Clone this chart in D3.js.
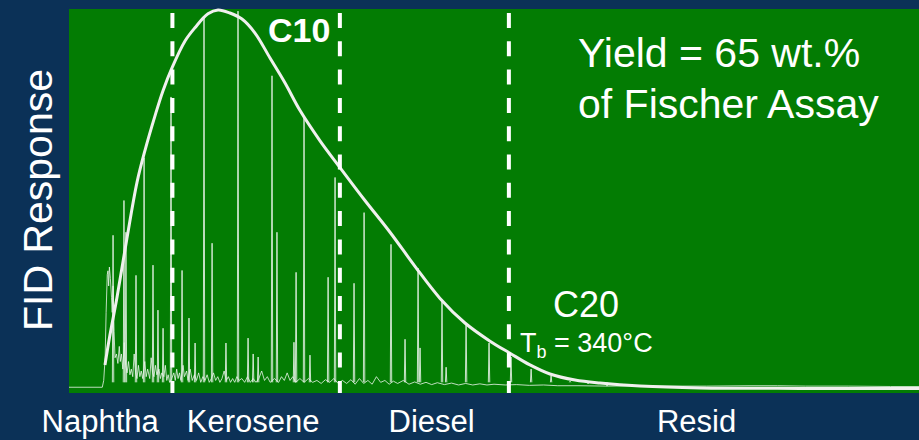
<html>
<script src='https://d3js.org/d3.v7.min.js'></script>
<style>
    body { margin: 0; background: #0b3157; }
    text { font-family: "Liberation Sans", Arial, sans-serif; fill: #ffffff; }
</style>

<body>
    <div id="graph-container"></div>
    <script>
        // retention time (min) of the boiling cuts and their labels
        var cutTimes = [7.3, 19.12, 31.05];
        var fractionNames = ["Naphtha", "Kerosene", "Diesel", "Resid"];
        var fractionLabelX = [2.2, 13.0, 25.6, 44.3];

        // baseline trace of the chromatogram: [time, response %]
        var traceTimes = [0, 2.35, 2.45, 2.55, 2.62, 2.7, 2.75, 2.8, 2.85, 2.92, 3.0, 3.05, 3.11, 3.18, 3.25, 3.35, 3.45, 3.55, 3.62, 3.7,
            3.8, 3.9, 4.0, 4.1, 4.2, 4.3, 4.4, 4.5, 4.6, 4.7, 4.8, 4.9, 5.0, 5.1, 5.2, 5.35, 5.45, 5.55, 5.7, 5.8,
            5.9, 6.0, 6.1, 6.2, 6.35, 6.45, 6.55, 6.7, 6.8, 6.9, 7.0, 7.1, 7.25, 7.4, 7.5, 7.6, 7.7, 7.8, 7.9, 8.05,
            8.15, 8.3, 8.4, 8.55, 8.7, 8.85, 9.0, 9.15, 9.3, 9.45, 9.6, 9.75, 9.9, 10.05, 10.2, 10.35, 10.5, 10.65, 10.8, 10.95,
            11.1, 11.25, 11.4, 11.55, 11.7, 11.85, 12.0, 12.2, 12.4, 12.6, 12.8, 13.0, 13.2, 13.4, 13.6, 13.8, 14.0, 14.2, 14.5, 14.8,
            15.0, 15.2, 15.4, 15.6, 15.8, 16.0, 16.3, 16.6, 16.9, 17.2, 17.5, 17.8, 18.1, 18.4, 18.7, 19.0, 19.3, 19.6, 19.9, 20.2,
            20.5, 20.8, 21.1, 21.4, 21.7, 22.0, 22.3, 22.6, 22.9, 23.2, 23.6, 24.0, 24.4, 24.8, 25.2, 25.6, 26.0, 26.5, 27.0, 27.5,
            28.0, 28.5, 29.0, 29.5, 30.0, 30.8, 31.6, 32.5, 33.5, 34.5, 36, 38, 40, 42, 45, 48, 50, 52, 55, 58, 60];
        var traceValues = [0.2, 0.2, 2, 8, 20, 30, 31, 27, 32, 29, 24, 20, 27, 15, 8, 9, 6.5, 11, 7, 9,
            5, 12, 6, 4, 7, 3.5, 5, 3, 9, 4, 2.5, 6, 3, 4.5, 2.5, 7, 3, 5, 2.5, 8,
            4, 3, 6, 3.5, 5, 2.5, 4, 3, 6, 2, 3.5, 1.5, 2.5, 4, 2, 5, 2.5, 4, 2, 6,
            3, 4.5, 2, 5, 2, 3.5, 2, 4, 1.5, 3, 2, 3.5, 1.5, 2.5, 4, 2, 3, 1.5, 2.5, 4.5,
            2, 3, 1.5, 2.5, 1.5, 3, 2, 2.5, 1.5, 3, 1.5, 2.5, 1.5, 2.5, 4.5, 2, 3, 1.5, 2.5, 1.5,
            3, 2, 4, 2, 3, 1.5, 2.5, 1.5, 2.5, 1.5, 2, 1.2, 2.2, 1.5, 2.5, 1.2, 2, 1.2, 2.2, 1,
            2.5, 1.2, 2, 1, 3, 1.5, 2, 1, 1.8, 1.2, 2, 1, 1.6, 1, 1.5, 0.9, 1.4, 0.9, 1.3, 0.8,
            1.2, 0.8, 1.1, 0.8, 1.0, 0.8, 0.9, 0.7, 0.8, 0.6, 0.6, 0.5, 0.6, 0.5, 0.5, 0.6, 0.6, 0.5, 0.5, 0.4, 0.4];

        // resolved peaks: [time, response %]
        var peakTimes = [3.11, 3.88, 4.02, 4.73, 5.30, 5.93, 6.28, 6.64, 7.2, 7.98, 8.47, 8.9, 9.53, 10.10, 11.08, 11.93,
            12.64, 13.0, 13.35, 14.33, 14.68, 15.88, 16.03, 16.59, 17.01, 18.29, 18.78, 20.12, 20.83, 22.73, 23.72,
            24.64, 24.78, 26.33, 26.62, 28.03, 29.65, 31.20, 32.62, 34.03, 35.37, 36.64, 37.98];
        var peakValues = [40.4, 49.6, 41.2, 29.8, 60.9, 32.5, 20.6, 15.8, 77, 31.1, 18.5, 11.9, 97.9, 38.3, 11.9, 99.7,
            13.2, 9.0, 8.2, 82.6, 41.2, 12.1, 30.6, 71.5, 8.7, 29.3, 55.7, 27.7, 46.4, 38.0, 12.9,
            31.7, 10.6, 23.2, 5.5, 17.2, 11.9, 8.2, 5.0, 3.2, 1.8, 1.1, 0.5];

        // smooth carbon-number envelope: [time, response %]
        var envTimes = [2.54, 2.89, 3.39, 4.09, 4.80, 5.36, 6.07, 6.63, 7.27, 8.19, 8.89, 9.81, 10.52, 11.36, 12.21, 13.13,
            14.19, 15.25, 16.31, 17.72, 19.13, 20.89, 22.66, 24.42, 26.19, 27.95, 29.72, 31.13, 32.54, 33.95, 35.72,
            37.48, 40.31, 44.54, 51.6, 60];
        var envValues = [6.1, 14.0, 24.0, 39.6, 54.4, 62.8, 72.0, 78.6, 84.7, 91.8, 95.3, 99.0, 100, 99.2, 97.6, 93.9,
            87.3, 80.7, 73.4, 65.4, 58.3, 49.6, 41.2, 32.2, 23.7, 17.2, 12.4, 9.2, 6.1, 3.7, 2.1,
            1.3, 0.5, 0.0, -0.1, -0.1];

        const width = 919, height = 440;
        const plotLeft = 69, plotRight = 919, plotTop = 9, plotBottom = 393;

        const svg = d3.select("#graph-container").append("svg")
            .attr("width", width)
            .attr("height", height);

        svg.append("rect")
            .attr("width", width).attr("height", height)
            .attr("fill", "#0b3157");

        // plot area
        svg.append("rect")
            .attr("x", plotLeft).attr("y", plotTop)
            .attr("width", plotRight - plotLeft).attr("height", plotBottom - plotTop)
            .attr("fill", "#037c03");

        const xScale = d3.scaleLinear().domain([0, 60]).range([plotLeft, plotRight]);
        const yScale = d3.scaleLinear().domain([0, 100]).range([388, 10]);

        const plot = svg.append("g");

        // baseline trace
        const trace = traceTimes.map((t, i) => [t, traceValues[i]]);
        const line = d3.line()
            .x(d => xScale(d[0]))
            .y(d => yScale(d[1]));
        plot.append("path")
            .datum(trace)
            .attr("fill", "none")
            .attr("stroke", "rgba(235,245,235,0.8)")
            .attr("stroke-width", 1)
            .attr("d", line);

        // peaks as thin spikes
        const peaks = peakTimes.map((t, i) => [t, peakValues[i]]);
        plot.selectAll(".peak")
            .data(peaks)
            .enter()
            .append("path")
            .attr("class", "peak")
            .attr("fill", "none")
            .attr("stroke", "rgba(235,245,235,0.85)")
            .attr("stroke-width", 1)
            .attr("d", d => line([[d[0] - 0.05, 1.5], [d[0], d[1]], [d[0] + 0.05, 1.5]]));

        // envelope
        const env = envTimes.map((t, i) => [t, envValues[i]]);
        const envLine = d3.line()
            .x(d => xScale(d[0]))
            .y(d => yScale(d[1]))
            .curve(d3.curveCatmullRom);
        plot.append("path")
            .datum(env)
            .attr("fill", "none")
            .attr("stroke", "#f0f0ee")
            .attr("stroke-width", 3)
            .attr("d", envLine);

        // cut lines
        svg.selectAll(".cut")
            .data(cutTimes)
            .enter()
            .append("line")
            .attr("class", "cut")
            .attr("x1", d => xScale(d)).attr("x2", d => xScale(d))
            .attr("y1", 13).attr("y2", plotBottom)
            .attr("stroke", "#ffffff")
            .attr("stroke-width", 4)
            .attr("stroke-dasharray", "15,13.3");

        // fraction labels
        svg.selectAll(".frac")
            .data(fractionNames)
            .enter()
            .append("text")
            .attr("class", "frac")
            .attr("x", (d, i) => xScale(fractionLabelX[i]))
            .attr("y", 432)
            .attr("text-anchor", "middle")
            .style("font-size", "31px")
            .text(d => d);

        // axis title
        svg.append("text")
            .attr("transform", "translate(52,200) rotate(-90)")
            .attr("text-anchor", "middle")
            .style("font-size", "41px")
            .text("FID Response");

        svg.append("text")
            .attr("x", 268).attr("y", 42)
            .style("font-size", "34px")
            .style("font-weight", "bold")
            .text("C10");

        svg.append("text")
            .attr("x", 553).attr("y", 317)
            .style("font-size", "36px")
            .text("C20");

        const tb = svg.append("text")
            .attr("x", 520).attr("y", 352)
            .style("font-size", "27px");
        tb.append("tspan").text("T");
        tb.append("tspan").attr("dy", 6).style("font-size", "18px").text("b");
        tb.append("tspan").attr("dy", -6).text(" = 340°C");

        svg.append("text")
            .attr("x", 578).attr("y", 67)
            .style("font-size", "41px")
            .text("Yield = 65 wt.%");
        svg.append("text")
            .attr("x", 578).attr("y", 118)
            .style("font-size", "41px")
            .text("of Fischer Assay");
    </script>
</body>

</html>
